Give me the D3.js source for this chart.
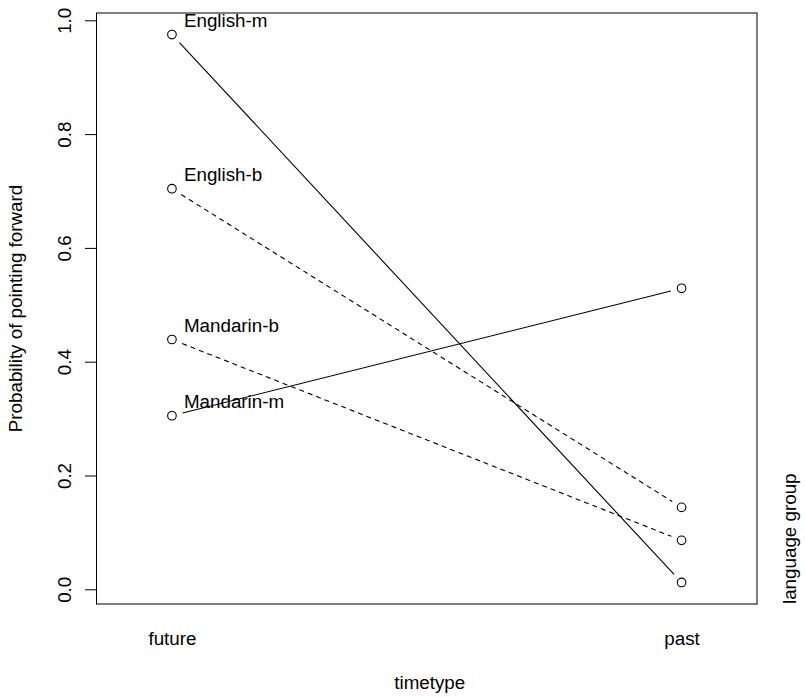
<!DOCTYPE html>
<html>
<head>
<meta charset="utf-8">
<script src="https://cdn.jsdelivr.net/npm/d3@7"></script>
<style>
  html, body { margin: 0; padding: 0; background: #fff; }
  svg { display: block; font-family: "Liberation Sans", Arial, Helvetica, sans-serif; }
</style>
</head>
<body>
<svg id="chart" width="805" height="697"></svg>
<script>
// Interaction plot: probability of pointing forward by time type and language group
const timeTypes = ["future", "past"];
const groups = ["English-m", "English-b", "Mandarin-b", "Mandarin-m"];
const futureValues = [0.975, 0.704, 0.439, 0.305];
const pastValues = [0.012, 0.144, 0.086, 0.529];
const groupDash = ["solid", "dashed", "dashed", "solid"];
const yTicks = [0, 0.2, 0.4, 0.6, 0.8, 1.0];

const svg = d3.select("#chart");
const box = { left: 96.5, right: 757, top: 13, bottom: 604 };
const fontSize = 18.8;

const x = d3.scalePoint().domain(timeTypes).range([box.left, box.right]).padding(0.148);
const y = d3.scaleLinear().domain([0, 1]).range([589.3, 20.3]);

const series = groups.map((g, i) => ({
  name: g,
  dash: groupDash[i],
  values: [
    { t: timeTypes[0], v: futureValues[i] },
    { t: timeTypes[1], v: pastValues[i] }
  ]
}));

// Plot frame
svg.append("rect")
  .attr("x", box.left).attr("y", box.top)
  .attr("width", box.right - box.left).attr("height", box.bottom - box.top)
  .attr("fill", "none").attr("stroke", "#000").attr("stroke-width", 1);

// Y axis
const yAxis = svg.append("g")
  .attr("transform", `translate(${box.left},0)`)
  .call(d3.axisLeft(y).tickValues(yTicks).tickSize(11.5).tickFormat(d3.format(".1f")));
yAxis.select(".domain").remove();
yAxis.selectAll(".tick line").attr("stroke", "#000");
yAxis.selectAll(".tick text")
  .attr("x", null).attr("dy", null)
  .attr("transform", "translate(-25.5,0) rotate(-90)")
  .attr("text-anchor", "middle")
  .attr("font-size", fontSize)
  .attr("font-family", null)
  .attr("fill", "#000");

// X axis (labels only)
const xAxis = svg.append("g")
  .attr("transform", `translate(0,${box.bottom})`)
  .call(d3.axisBottom(x).tickSize(0));
xAxis.select(".domain").remove();
xAxis.selectAll(".tick text")
  .attr("y", 41).attr("dy", null)
  .attr("font-size", fontSize)
  .attr("font-family", null)
  .attr("fill", "#000");

// Axis titles
svg.append("text")
  .attr("x", (box.left + box.right) / 2 + 3).attr("y", 689)
  .attr("text-anchor", "middle").attr("font-size", fontSize)
  .text("timetype");
svg.append("text")
  .attr("transform", `translate(22,${(box.top + box.bottom) / 2}) rotate(-90)`)
  .attr("text-anchor", "middle").attr("font-size", fontSize)
  .text("Probability of pointing forward");
svg.append("text")
  .attr("transform", `translate(796,${box.bottom}) rotate(-90)`)
  .attr("text-anchor", "start").attr("font-size", fontSize)
  .text("language group");

// Lines between points, leaving a gap around each marker
const gap = 11;
const lineG = svg.append("g");
series.forEach(s => {
  const x1 = x(s.values[0].t), y1 = y(s.values[0].v);
  const x2 = x(s.values[1].t), y2 = y(s.values[1].v);
  const len = Math.hypot(x2 - x1, y2 - y1);
  const ux = (x2 - x1) / len, uy = (y2 - y1) / len;
  lineG.append("line")
    .attr("x1", x1 + ux * gap).attr("y1", y1 + uy * gap)
    .attr("x2", x2 - ux * gap).attr("y2", y2 - uy * gap)
    .attr("stroke", "#000").attr("stroke-width", 1.1)
    .attr("stroke-dasharray", s.dash === "dashed" ? "5,4" : null);
});

// Point markers
series.forEach(s => {
  svg.append("g").selectAll("circle")
    .data(s.values)
    .join("circle")
    .attr("cx", d => x(d.t)).attr("cy", d => y(d.v))
    .attr("r", 4.3)
    .attr("fill", "none").attr("stroke", "#000").attr("stroke-width", 1.1);
});

// Group labels next to the first point
svg.append("g").selectAll("text")
  .data(series)
  .join("text")
  .attr("x", d => x(d.values[0].t) + 12)
  .attr("y", d => y(d.values[0].v) - 8)
  .attr("font-size", fontSize)
  .text(d => d.name);
</script>
</body>
</html>
